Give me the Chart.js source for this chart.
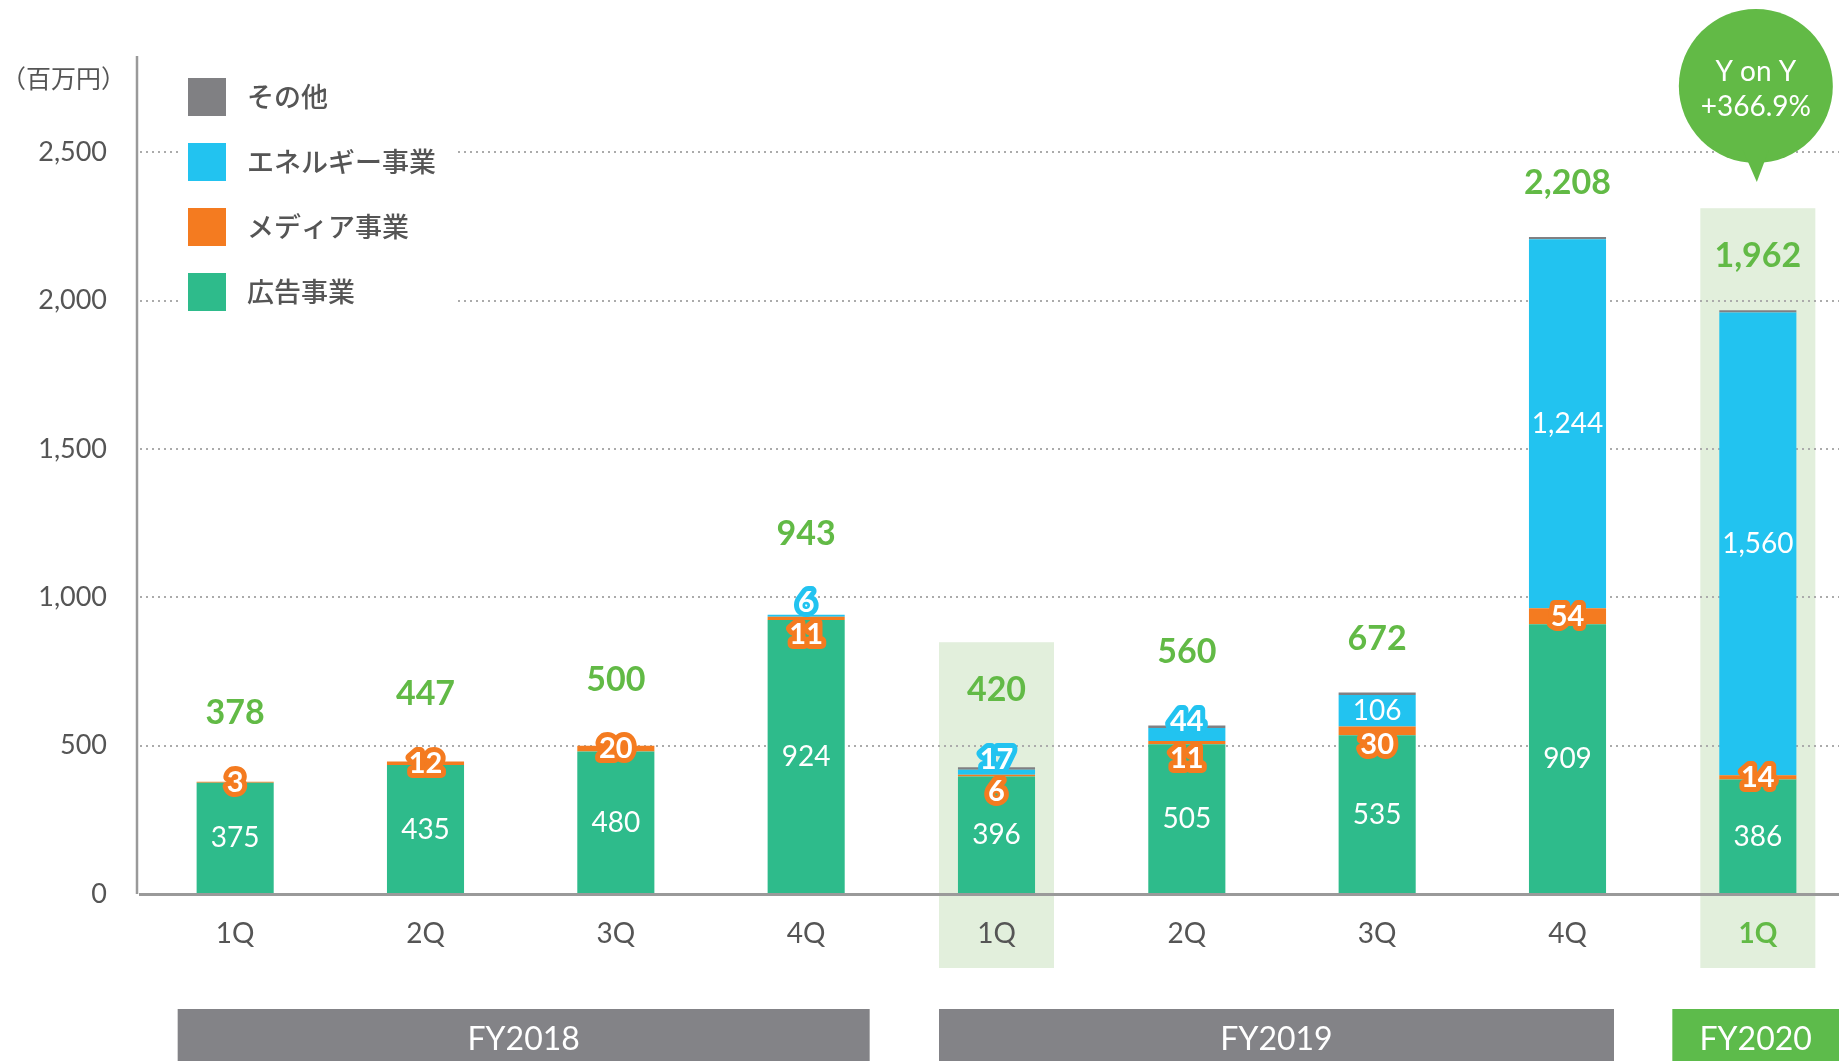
<!DOCTYPE html>
<html>
<head>
<meta charset="utf-8">
<script src="https://cdn.jsdelivr.net/npm/chart.js@4.4.0/dist/chart.umd.min.js"></script>
<style>
html, body { margin: 0; padding: 0; overflow: hidden; background: #fff; }
</style>
</head>
<body>
<canvas id="myChart" width="1853" height="1061"></canvas>
<script>
// data
var quarters = ["1Q", "2Q", "3Q", "4Q", "1Q", "2Q", "3Q", "4Q", "1Q"];
var ad     = [375, 435, 480, 924, 396, 505, 535, 909, 386];
var media  = [3, 12, 20, 11, 6, 11, 30, 54, 14];
var energy = [0, 0, 0, 6, 17, 44, 106, 1244, 1560];
var other  = [0, 0, 0, 0, 8, 8, 8, 8, 8];
var totals = [378, 447, 500, 943, 420, 560, 672, 2208, 1962];
var yTicks = [0, 500, 1000, 1500, 2000, 2500];
var years = [
    { label: "FY2018", from: 0, to: 3 },
    { label: "FY2019", from: 4, to: 7 },
    { label: "FY2020", from: 8, to: 8 }
];
var highlighted = [4, 8];
var unitLabel = "（百万円）";
var yoyText = ["Y on Y", "+366.9%"];

var FONT = "Lato, 'Noto Sans CJK JP', sans-serif";
var GREEN_TXT = "#62BA46";
var GRAY_TXT = "#555555";

function fmt(v) {
    return v.toLocaleString("en-US");
}

// where every value label of a bar goes
function labelLayout(chart) {
    var x = chart.scales.x, y = chart.scales.y;
    var res = [];
    for (var i = 0; i < quarters.length; i++) {
        var cx = x.getPixelForValue(i);
        var base = 0;
        var segs = [];
        [ad, media, energy].forEach(function (arr) {
            var v = arr[i];
            var top = y.getPixelForValue(base + v);
            var bot = y.getPixelForValue(base);
            segs.push({ v: v, cy: (top + bot) / 2, ly: (top + bot) / 2, small: v > 0 && v < 60 });
            base += v;
        });
        var m = segs[1], e = segs[2];
        if (m.v > 0 && e.v > 0 && m.cy - e.cy < 34) {
            if (e.small) {
                e.ly = e.cy - 13;
                m.ly = m.cy + 16;
            } else {
                m.ly = m.cy + 14;
            }
        }
        var topY = y.getPixelForValue(base + other[i]);
        segs.forEach(function (s) {
            if (s.small) topY = Math.min(topY, s.ly - 15);
        });
        res.push({ cx: cx, segs: segs, totalY: topY - 54 });
    }
    return res;
}

var decoPlugin = {
    id: "deco",
    beforeDraw: function (chart) {
        var ctx = chart.ctx;
        var lay = labelLayout(chart);
        ctx.save();
        ctx.fillStyle = "#E2EFDC";
        highlighted.forEach(function (i) {
            var top = lay[i].totalY - 48;
            ctx.fillRect(lay[i].cx - 57.5, top, 115, 968 - top);
        });
        ctx.restore();
    },
    beforeDatasetsDraw: function (chart) {
        // y axis line
        var ctx = chart.ctx, a = chart.chartArea;
        ctx.save();
        ctx.strokeStyle = "#9a9a9a";
        ctx.lineWidth = 2.5;
        ctx.beginPath();
        ctx.moveTo(137, a.top);
        ctx.lineTo(137, a.bottom);
        ctx.stroke();
        ctx.restore();
    },
    afterDatasetsDraw: function (chart) {
        var ctx = chart.ctx;
        var lay = labelLayout(chart);
        var ds = chart.data.datasets;
        ctx.save();
        ctx.textAlign = "center";
        ctx.textBaseline = "middle";
        lay.forEach(function (b, i) {
            b.segs.forEach(function (s, k) {
                if (s.v <= 0) return;
                if (s.small) {
                    ctx.font = "bold 29px " + FONT;
                    ctx.lineJoin = "round";
                    ctx.lineWidth = 10;
                    ctx.strokeStyle = ds[k].backgroundColor;
                    ctx.strokeText(fmt(s.v), b.cx, s.ly);
                    ctx.fillStyle = "#fff";
                    ctx.fillText(fmt(s.v), b.cx, s.ly);
                } else {
                    ctx.font = "28px " + FONT;
                    ctx.fillStyle = "#fff";
                    ctx.fillText(fmt(s.v), b.cx, s.ly);
                }
            });
            ctx.font = "bold 34px " + FONT;
            ctx.fillStyle = GREEN_TXT;
            ctx.fillText(fmt(totals[i]), b.cx, b.totalY);
        });
        ctx.restore();
    },
    afterDraw: function (chart) {
        var ctx = chart.ctx;
        var x = chart.scales.x;
        var ds = chart.data.datasets;
        ctx.save();

        // unit
        ctx.font = "25px " + FONT;
        ctx.fillStyle = GRAY_TXT;
        ctx.textAlign = "left";
        ctx.textBaseline = "middle";
        ctx.fillText(unitLabel, 1, 80);

        // legend over the grid lines
        ctx.fillStyle = "#fff";
        ctx.fillRect(178, 62, 277, 258);
        for (var k = ds.length - 1, r = 0; k >= 0; k--, r++) {
            var cy = 97 + r * 65;
            ctx.fillStyle = ds[k].backgroundColor;
            ctx.fillRect(188, cy - 19, 38, 38);
            ctx.fillStyle = GRAY_TXT;
            ctx.font = "500 27px 'Noto Sans CJK JP', sans-serif";
            ctx.fillText(ds[k].label, 247, cy);
        }

        // fiscal year bands
        ctx.textAlign = "center";
        ctx.font = "32px " + FONT;
        years.forEach(function (g) {
            var x0 = x.getPixelForValue(g.from) - 57.5;
            var x1 = x.getPixelForValue(g.to) + 57.5;
            if (g.label == "FY2018") x1 += 6;
            if (g.label == "FY2019") x1 -= 11;
            if (g.label == "FY2020") { x0 -= 28; x1 = chart.width; }
            ctx.fillStyle = g.label == "FY2020" ? "#5DBB4B" : "#838387";
            ctx.fillRect(x0, 1009, x1 - x0, 60);
            ctx.fillStyle = "#fff";
            ctx.fillText(g.label, (x0 + Math.min(x1, 1839)) / 2, 1040);
        });

        // Y on Y bubble
        var bx = x.getPixelForValue(quarters.length - 1) - 2;
        ctx.fillStyle = GREEN_TXT;
        ctx.beginPath();
        ctx.arc(bx, 86, 77, 0, Math.PI * 2);
        ctx.fill();
        ctx.beginPath();
        ctx.moveTo(bx - 13, 150);
        ctx.lineTo(bx + 13, 150);
        ctx.lineTo(bx + 1, 182);
        ctx.closePath();
        ctx.fill();
        ctx.fillStyle = "#fff";
        ctx.font = "28px " + FONT;
        ctx.fillText(yoyText[0], bx, 72);
        ctx.fillText(yoyText[1], bx, 107);
        ctx.restore();
    }
};

var canvas = document.getElementById("myChart");
var myChart = new Chart(canvas, {
    type: "bar",
    data: {
        labels: quarters,
        datasets: [
            { label: "広告事業", data: ad, backgroundColor: "#2EBB8B" },
            { label: "メディア事業", data: media, backgroundColor: "#F47B20" },
            { label: "エネルギー事業", data: energy, backgroundColor: "#22C3F0" },
            { label: "その他", data: other, backgroundColor: "#808083" }
        ]
    },
    options: {
        responsive: false,
        animation: false,
        layout: { padding: { top: 56, left: 0, right: 0, bottom: 0 } },
        datasets: {
            bar: { categoryPercentage: 1, barPercentage: 0.405, borderWidth: 0 }
        },
        plugins: {
            legend: { display: false },
            tooltip: { enabled: false }
        },
        scales: {
            x: {
                stacked: true,
                afterFit: function (s) { s.height = 167; },
                grid: { display: false, drawTicks: false },
                border: { display: true, color: "#9a9a9a", width: 3 },
                ticks: {
                    padding: 23,
                    color: function (c) { return c.index == 8 ? GREEN_TXT : GRAY_TXT; },
                    font: function (c) {
                        return { family: FONT, size: 28, weight: c.index == 8 ? "bold" : "normal" };
                    }
                }
            },
            y: {
                stacked: true,
                min: 0,
                max: 2825,
                afterFit: function (s) { s.width = 140; },
                afterBuildTicks: function (s) {
                    s.ticks = yTicks.map(function (v) { return { value: v }; });
                },
                grid: {
                    drawTicks: false,
                    lineWidth: 2,
                    color: function (c) { return c.tick && c.tick.value === 0 ? "rgba(0,0,0,0)" : "#ababab"; }
                },
                border: { display: false, dash: [2, 4] },
                ticks: {
                    padding: 33,
                    color: GRAY_TXT,
                    font: { family: FONT, size: 27 },
                    callback: function (v) { return fmt(v); }
                }
            }
        }
    },
    plugins: [decoPlugin]
});
</script>
</body>
</html>
